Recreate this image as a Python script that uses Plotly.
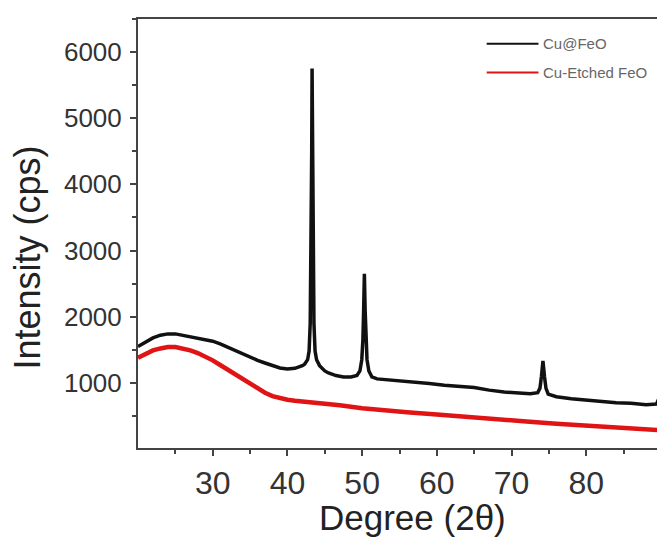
import plotly.graph_objects as go

# Cu@FeO (black)
cu_feo_x = [20, 21, 22, 23, 24, 25, 26, 27, 28, 29, 30, 31, 32, 33, 34, 35, 36, 37, 38, 39, 40, 41, 42, 42.3, 42.7, 42.9,
            43.05, 43.15, 43.25, 43.3, 43.35, 43.45, 43.55, 43.7, 43.9, 44.3, 45, 45.5, 46.5, 47.5, 48.5, 49.3, 49.7, 49.95,
            50.1, 50.2, 50.3, 50.4, 50.5, 50.65, 50.9, 51.3, 52, 53, 55, 57, 59, 61, 63, 65, 67, 69, 71, 72.5, 73.5, 73.8,
            74.0, 74.2, 74.4, 74.6, 74.9, 76, 78, 80, 82, 84, 86, 88, 89.4, 89.7, 89.9, 90]
cu_feo_y = [1550, 1620, 1680, 1720, 1740, 1740, 1720, 1700, 1680, 1660, 1630, 1590, 1540, 1480, 1430, 1380, 1340, 1300, 1260, 1225, 1210, 1220, 1260, 1280, 1350, 1480,
            1900, 2800, 4500, 5750, 4500, 2800, 1900, 1480, 1350, 1260, 1180, 1150, 1110, 1090, 1090, 1110, 1180, 1350,
            1650, 2100, 2650, 2100, 1650, 1350, 1180, 1090, 1060, 1050, 1040, 1020, 990, 965, 950, 930, 890, 860, 845, 835, 850, 920,
            1100, 1330, 1100, 920, 830, 790, 760, 740, 715, 700, 690, 670, 680, 760, 950, 1130]

# Cu-Etched FeO (red)
etched_x = [20, 21, 22, 23, 24, 25, 26, 27, 28, 29, 30, 31, 32, 33, 34, 35, 36, 37, 38, 39, 40, 41, 43, 45, 47, 50, 53, 56,
            60, 64, 68, 72, 76, 80, 84, 87, 90]
etched_y = [1380, 1440, 1490, 1520, 1540, 1540, 1520, 1490, 1450, 1400, 1340, 1270, 1200, 1130, 1060, 990, 920, 850, 800, 765, 745, 730, 710, 690, 660, 615, 580, 555,
            520, 490, 450, 415, 380, 355, 320, 300, 285]

series_names = ["Cu@FeO", "Cu-Etched FeO"]
series_colors = ["#111111", "#e01414"]

x_ticks = [30, 40, 50, 60, 70, 80]
x_minor = [25, 35, 45, 55, 65, 75, 85, 90]
y_ticks = [1000, 2000, 3000, 4000, 5000, 6000]

fig = go.Figure()
fig.add_trace(go.Scatter(x=etched_x, y=etched_y, mode="lines", name=series_names[1],
                         line=dict(color=series_colors[1], width=4.5), showlegend=False))
fig.add_trace(go.Scatter(x=cu_feo_x, y=cu_feo_y, mode="lines", name=series_names[0],
                         line=dict(color=series_colors[0], width=3.5), showlegend=False))

axis_common = dict(showgrid=False, zeroline=False, showline=True, linecolor="#444", linewidth=2,
                   mirror=True, ticks="outside", ticklen=6, tickwidth=1.5, tickcolor="#444")

fig.update_xaxes(range=[20, 90], tickmode="array", tickvals=x_ticks,
                 tickfont=dict(family="Arial", size=32, color="#333"),
                 minor=dict(tickvals=x_minor, ticks="outside", ticklen=4, tickcolor="#444"),
                 **axis_common)
fig.update_yaxes(range=[15, 6500], tickmode="array", tickvals=y_ticks,
                 tickfont=dict(family="Arial", size=26, color="#333"),
                 ticklabelstandoff=3,
                 minor=dict(dtick=500, tick0=0, ticks="outside", ticklen=4, tickcolor="#444"),
                 **axis_common)

# manual legend
leg_y = [0.9424, 0.8755]
shapes = []
annotations = []
for i in range(2):
    shapes.append(dict(type="line", xref="paper", yref="paper", x0=0.6667, x1=0.7657,
                       y0=leg_y[i], y1=leg_y[i], line=dict(color=series_colors[i], width=2)))
    annotations.append(dict(xref="paper", yref="paper", x=0.7714, y=leg_y[i], xanchor="left",
                            yanchor="middle", text=series_names[i], showarrow=False,
                            font=dict(family="Arial", size=15, color="#666")))

annotations.append(dict(xref="paper", yref="paper", x=0.524, y=-0.1625, xanchor="center", yanchor="middle",
                        text="Degree (2θ)", showarrow=False, font=dict(family="Arial", size=35, color="#222")))
annotations.append(dict(xref="paper", yref="paper", x=-0.2115, y=0.445, xanchor="center", yanchor="middle",
                        text="Intensity (cps)", textangle=-90, showarrow=False,
                        font=dict(family="Arial", size=36, color="#222")))

# page body has an 8px margin: figure is sized so it fits the 665x546 window exactly
fig.update_layout(width=657, height=530, margin=dict(l=130, r=2, t=11, b=90),
                  paper_bgcolor="white", plot_bgcolor="white",
                  shapes=shapes, annotations=annotations, showlegend=False)

fig.write_html("out.html")
